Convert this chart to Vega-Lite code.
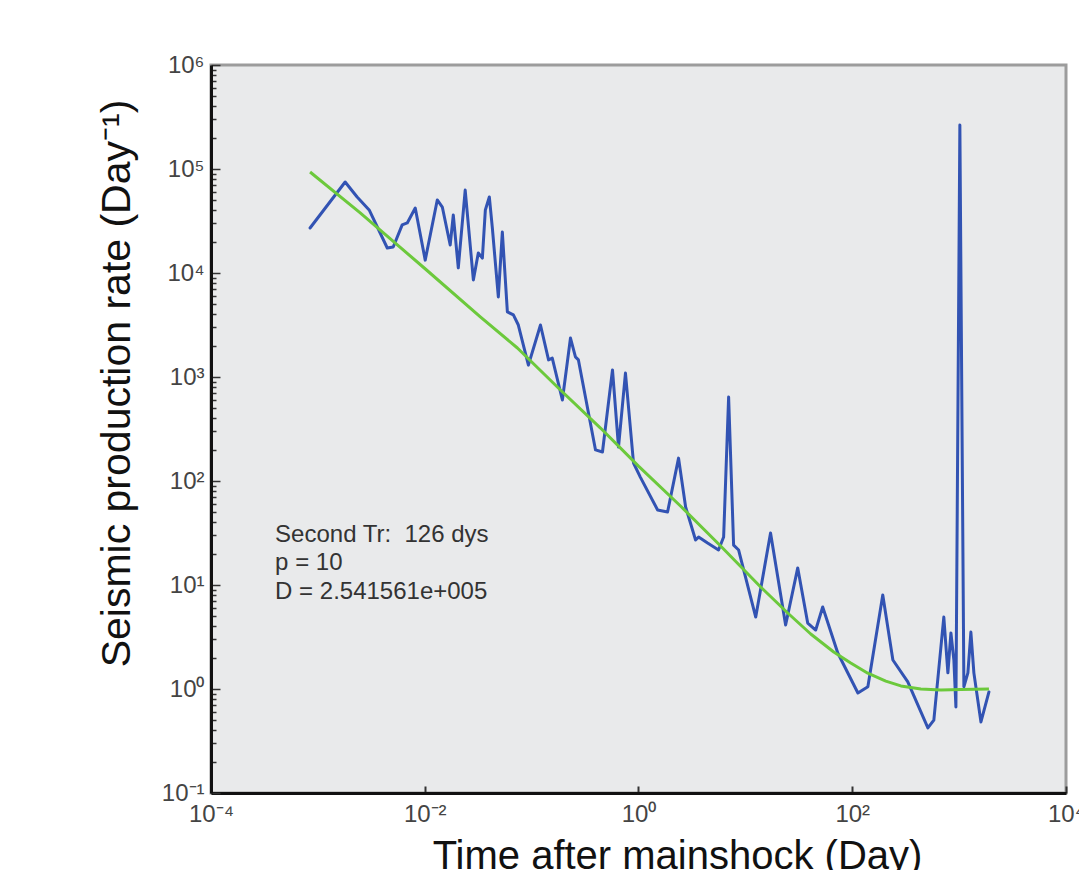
{
  "$schema": "https://vega.github.io/schema/vega-lite/v6.json",
  "width": 855,
  "height": 728,
  "autosize": {"type": "none"},
  "padding": {"left": 211, "top": 65, "right": 13, "bottom": 77},
  "background": "white",
  "config": {
    "view": {"fill": "#e9eaeb", "stroke": "#9c9c9c", "strokeWidth": 3},
    "font": "Liberation Sans"
  },
  "datasets": {
    "obs": [
      {"t": 0.000845, "rate": 27100}, {"t": 0.0018, "rate": 75000}, {"t": 0.00233, "rate": 53800},
      {"t": 0.00302, "rate": 40400}, {"t": 0.00446, "rate": 17400}, {"t": 0.00507, "rate": 17800},
      {"t": 0.00615, "rate": 29000}, {"t": 0.00686, "rate": 30300}, {"t": 0.00815, "rate": 42200},
      {"t": 0.0101, "rate": 13300}, {"t": 0.0131, "rate": 50400}, {"t": 0.0146, "rate": 43100},
      {"t": 0.0173, "rate": 18600}, {"t": 0.0185, "rate": 36100}, {"t": 0.0206, "rate": 11200},
      {"t": 0.0239, "rate": 62800}, {"t": 0.0285, "rate": 8570}, {"t": 0.0317, "rate": 15600},
      {"t": 0.0346, "rate": 13900}, {"t": 0.0369, "rate": 40400}, {"t": 0.0402, "rate": 53800},
      {"t": 0.0429, "rate": 27100}, {"t": 0.0488, "rate": 5880}, {"t": 0.0532, "rate": 24800},
      {"t": 0.0593, "rate": 4220}, {"t": 0.0675, "rate": 3950}, {"t": 0.0751, "rate": 3160},
      {"t": 0.0933, "rate": 1300}, {"t": 0.121, "rate": 3160}, {"t": 0.144, "rate": 1460},
      {"t": 0.156, "rate": 1520}, {"t": 0.194, "rate": 601}, {"t": 0.231, "rate": 2370},
      {"t": 0.257, "rate": 1560}, {"t": 0.274, "rate": 1460}, {"t": 0.396, "rate": 199},
      {"t": 0.46, "rate": 190}, {"t": 0.571, "rate": 1170}, {"t": 0.65, "rate": 212},
      {"t": 0.755, "rate": 1090}, {"t": 0.898, "rate": 149}, {"t": 1.04, "rate": 109},
      {"t": 1.51, "rate": 52.6}, {"t": 1.87, "rate": 50.3}, {"t": 2.37, "rate": 166},
      {"t": 2.76, "rate": 56.2}, {"t": 3.42, "rate": 27.1}, {"t": 3.65, "rate": 28.9},
      {"t": 4.43, "rate": 25.3}, {"t": 5.61, "rate": 21.7}, {"t": 6.26, "rate": 28.9},
      {"t": 6.97, "rate": 642}, {"t": 7.76, "rate": 24.2}, {"t": 8.65, "rate": 21.7},
      {"t": 12.5, "rate": 4.92}, {"t": 17.2, "rate": 31.6}, {"t": 23.8, "rate": 4.12},
      {"t": 30.9, "rate": 14.6}, {"t": 38.3, "rate": 4.31}, {"t": 45.5, "rate": 3.69},
      {"t": 52.9, "rate": 6.15}, {"t": 73.2, "rate": 2.22}, {"t": 113, "rate": 0.915},
      {"t": 140, "rate": 1.05}, {"t": 193, "rate": 8.02}, {"t": 240, "rate": 1.9},
      {"t": 331, "rate": 1.17}, {"t": 510, "rate": 0.422}, {"t": 580, "rate": 0.503},
      {"t": 719, "rate": 4.92}, {"t": 785, "rate": 1.43}, {"t": 838, "rate": 3.46},
      {"t": 893, "rate": 1.9}, {"t": 933, "rate": 0.671}, {"t": 1016, "rate": 265000},
      {"t": 1108, "rate": 1.05}, {"t": 1208, "rate": 1.43}, {"t": 1288, "rate": 3.53},
      {"t": 1374, "rate": 1.43}, {"t": 1600, "rate": 0.482}, {"t": 1901, "rate": 0.936}
    ],
    "fit": [
      {"t": 0.000845, "rate": 93500}, {"t": 0.00249, "rate": 37800}, {"t": 0.00989, "rate": 11170},
      {"t": 0.0331, "rate": 3776}, {"t": 0.0736, "rate": 1901}, {"t": 0.186, "rate": 750},
      {"t": 0.441, "rate": 323}, {"t": 1, "rate": 139}, {"t": 2.47, "rate": 57.5},
      {"t": 5.87, "rate": 23.7}, {"t": 13.9, "rate": 9.57}, {"t": 24.9, "rate": 5.38},
      {"t": 40.9, "rate": 3.38}, {"t": 67.1, "rate": 2.27}, {"t": 96.8, "rate": 1.78},
      {"t": 139.7, "rate": 1.42}, {"t": 206, "rate": 1.19}, {"t": 285, "rate": 1.07},
      {"t": 438, "rate": 1.0}, {"t": 675, "rate": 0.978}, {"t": 1038, "rate": 0.99},
      {"t": 1901, "rate": 1.0}
    ],
    "notes": [
      {"t": 0.000398, "rate": 25.9, "label": "Second Tr:\u00a0 126 dys"},
      {"t": 0.000398, "rate": 13.9, "label": "p = 10"},
      {"t": 0.000398, "rate": 7.33, "label": "D = 2.541561e+005"}
    ]
  },
  "encoding": {
    "x": {
      "field": "t",
      "type": "quantitative",
      "scale": {"type": "log", "domain": [0.0001, 10000], "nice": false},
      "axis": {
        "values": [0.0001, 0.01, 1, 100, 10000],
        "labelExpr": "'10' + (round(log(datum.value)/LN10) < 0 ? '⁻' : '') + ['⁰','¹','²','³','⁴','⁵','⁶','⁷','⁸','⁹'][abs(round(log(datum.value)/LN10))]",
        "title": "Time after mainshock (Day)",
        "grid": false,
        "zindex": 1,
        "domainColor": "#111111",
        "domainWidth": 3,
        "tickColor": "#333333",
        "tickSize": -7,
        "tickWidth": 2,
        "labelPadding": 16,
        "labelFontSize": 24,
        "labelColor": "#444444",
        "labelFlush": false,
        "labelOverlap": false,
        "titleFontSize": 40,
        "titleFontWeight": "normal",
        "titleColor": "#111111",
        "titleX": 466,
        "titleY": 75,
        "titleAlign": "center",
        "titleBaseline": "alphabetic"
      }
    },
    "y": {
      "field": "rate",
      "type": "quantitative",
      "scale": {"type": "log", "domain": [0.1, 1000000], "nice": false},
      "axis": {
        "values": [0.1,0.2,0.3,0.4,0.5,0.6,0.7,0.8,0.9,1,2,3,4,5,6,7,8,9,10,20,30,40,50,60,70,80,90,100,200,300,400,500,600,700,800,900,1000,2000,3000,4000,5000,6000,7000,8000,9000,10000,20000,30000,40000,50000,60000,70000,80000,90000,100000,200000,300000,400000,500000,600000,700000,800000,900000,1000000],
        "labelExpr": "abs(log(datum.value)/LN10 - round(log(datum.value)/LN10)) < 0.001 ? ('10' + (round(log(datum.value)/LN10) < 0 ? '⁻' : '') + ['⁰','¹','²','³','⁴','⁵','⁶','⁷','⁸','⁹'][abs(round(log(datum.value)/LN10))]) : ''",
        "title": "Seismic production rate (Day⁻¹)",
        "grid": false,
        "zindex": 1,
        "domainColor": "#111111",
        "domainWidth": 3,
        "tickColor": "#333333",
        "tickSize": {"condition": {"test": "abs(log(datum.value)/LN10 - round(log(datum.value)/LN10)) < 0.001", "value": -9}, "value": -5},
        "tickWidth": 1.5,
        "labelPadding": 16,
        "labelFontSize": 24,
        "labelColor": "#444444",
        "labelFlush": false,
        "labelOverlap": false,
        "labelBaseline": "middle",
        "titleFontSize": 41,
        "titleFontWeight": "normal",
        "titleColor": "#111111",
        "titleAngle": -90,
        "titleX": -82,
        "titleY": 318,
        "titleAlign": "center",
        "titleBaseline": "alphabetic"
      }
    }
  },
  "layer": [
    {
      "data": {"name": "obs"},
      "mark": {"type": "line", "color": "#3253b3", "strokeWidth": 3, "strokeJoin": "round", "strokeCap": "round", "clip": true}
    },
    {
      "data": {"name": "fit"},
      "mark": {"type": "line", "color": "#6cc93c", "strokeWidth": 3, "strokeJoin": "round", "clip": true}
    },
    {
      "data": {"name": "notes"},
      "mark": {"type": "text", "align": "left", "baseline": "alphabetic", "fontSize": 24, "color": "#333333"},
      "encoding": {"text": {"field": "label"}}
    }
  ]
}
